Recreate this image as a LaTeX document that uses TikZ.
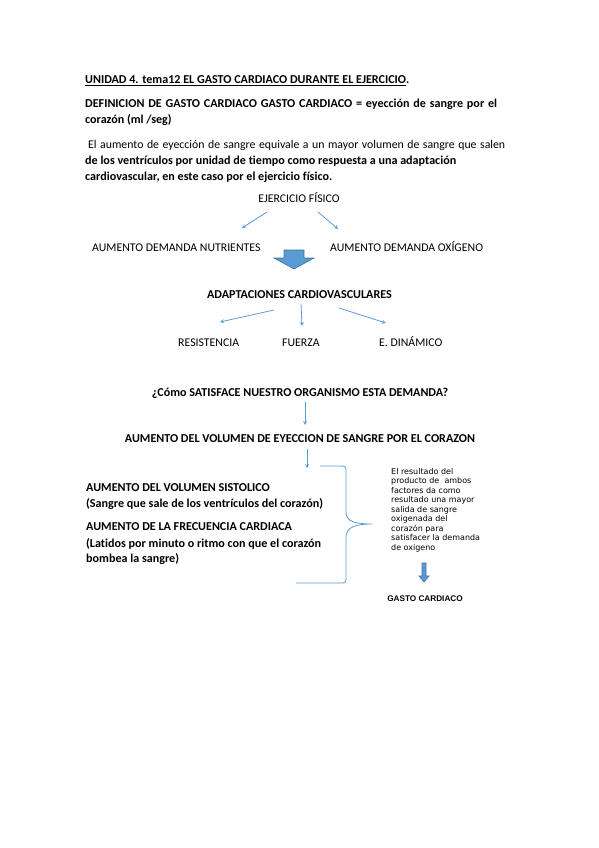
\documentclass[tikz,border=0pt]{standalone}
\usepackage{fontspec}
\setmainfont{Carlito}[Ligatures=NoCommon]
\newfontfamily\cajafont{DejaVu Sans}
\newfontfamily\arialfont{Liberation Sans}
\definecolor{azul}{RGB}{91,155,213}
\definecolor{azulborde}{RGB}{65,113,156}

\begin{document}
\begin{tikzpicture}[x=1pt,y=-1pt,>=stealth,
  txt/.style={font=\fontsize{11.8}{13}\selectfont,inner sep=0pt},
  negrita/.style={font=\fontsize{12.1}{13}\selectfont\bfseries,inner sep=0pt},
  flecha/.style={draw=azul,line width=0.8pt,->},
  bloque/.style={fill=azul,draw=azulborde,line width=0.6pt}]

\useasboundingbox[fill=white] (0,0) rectangle (599,848);

% encabezado
\node[negrita,anchor=base west] (titulo) at (85,84)
  {\underline{UNIDAD 4. tema12 EL GASTO CARDIACO DURANTE EL EJERCICIO}.};
\node[negrita,anchor=base west] (def1) at (85,108)
  {\makebox[412pt][s]{DEFINICION DE GASTO CARDIACO GASTO CARDIACO = eyección de sangre por el}};
\node[negrita,anchor=base west] (def2) at (85,124) {corazón (ml /seg)};
\node[txt,anchor=base west] (par1) at (88,148)
  {\makebox[417pt][s]{El aumento de eyección de sangre equivale a un mayor volumen de sangre que salen}};
\node[negrita,anchor=base west] (par2) at (85,164)
  {de los ventrículos por unidad de tiempo como respuesta a una adaptación};
\node[negrita,anchor=base west] (par3) at (85,180)
  {cardiovascular, en este caso por el ejercicio físico.};

% ejercicio y demandas
\node[txt,anchor=base] (ejer) at (299,202) {EJERCICIO FÍSICO};
\node[txt,anchor=base west] (nutr) at (92,251) {AUMENTO DEMANDA NUTRIENTES};
\node[txt,anchor=base west] (oxig) at (330,251) {AUMENTO DEMANDA OXÍGENO};
\coordinate (e1) at (267,212); \coordinate (n1) at (242,228);
\coordinate (e2) at (318,212); \coordinate (o1) at (338,229);
\draw[flecha] (e1) -- (n1);
\draw[flecha] (e2) -- (o1);

% flecha gruesa
\draw[bloque] (284,250) -- (304,250) -- (304,258) -- (314,258) -- (294,269)
  -- (274,258) -- (284,258) -- cycle;

% adaptaciones
\node[negrita,anchor=base] (adap) at (299.5,298) {ADAPTACIONES CARDIOVASCULARES};
\node[txt,anchor=base west] (resi) at (178,346) {RESISTENCIA};
\node[txt,anchor=base west] (fuer) at (282,346) {FUERZA};
\node[txt,anchor=base west] (dina) at (379,346) {E. DINÁMICO};
\coordinate (d1) at (274,310); \coordinate (r1) at (220,322);
\coordinate (d2) at (301,304); \coordinate (f1) at (302,326);
\coordinate (d3) at (339,308); \coordinate (i1) at (386,323);
\draw[flecha] (d1) -- (r1);
\draw[flecha] (d2) -- (f1);
\draw[flecha] (d3) -- (i1);

% pregunta y respuesta
\node[negrita,anchor=base] (preg) at (300,396)
  {¿Cómo SATISFACE NUESTRO ORGANISMO ESTA DEMANDA?};
\node[negrita,anchor=base] (volu) at (300,442)
  {AUMENTO DEL VOLUMEN DE EYECCION DE SANGRE POR EL CORAZON};
\coordinate (p1) at (305,402); \coordinate (v1) at (305,425);
\coordinate (v2) at (307,449); \coordinate (l1) at (307,468);
\draw[flecha] (p1) -- (v1);
\draw[flecha] (v2) -- (l1);

% factores
\node[negrita,anchor=base west] (sist) at (86,491) {AUMENTO DEL VOLUMEN SISTOLICO};
\node[negrita,anchor=base west] (sist2) at (86,507)
  {(Sangre que sale de los ventrículos del corazón)};
\node[negrita,anchor=base west] (frec) at (86,530) {AUMENTO DE LA FRECUENCIA CARDIACA};
\node[negrita,anchor=base west] (frec2) at (86,547)
  {(Latidos por minuto o ritmo con que el corazón};
\node[negrita,anchor=base west] (frec3) at (86,562) {bombea la sangre)};

% llave
\draw[azul,line width=0.8pt] (320,466) -- (339,466) .. controls (346,466) .. (346,473)
  -- (346,512) .. controls (346,522) and (356,524) .. (372,524)
  .. controls (356,524) and (346,527) .. (346,537) -- (346,576)
  .. controls (346,583) .. (339,583) -- (296,583);

% resultado
\node[font=\cajafont\fontsize{8}{9.5}\selectfont,inner sep=0pt,align=left,
  anchor=north west] (resu) at (391,468)
  {El resultado del\\producto de \ ambos\\factores da como\\resultado una mayor\\
   salida de sangre\\oxigenada del\\corazón para\\satisfacer la demanda\\de oxigeno};
\draw[bloque] (422,563) -- (426,563) -- (426,576) -- (429,576) -- (424,582)
  -- (419,576) -- (422,576) -- cycle;
\node[font=\arialfont\fontsize{8.2}{9}\selectfont\bfseries,inner sep=0pt,anchor=base]
  (gast) at (425,601) {GASTO CARDIACO};

\end{tikzpicture}
\end{document}
